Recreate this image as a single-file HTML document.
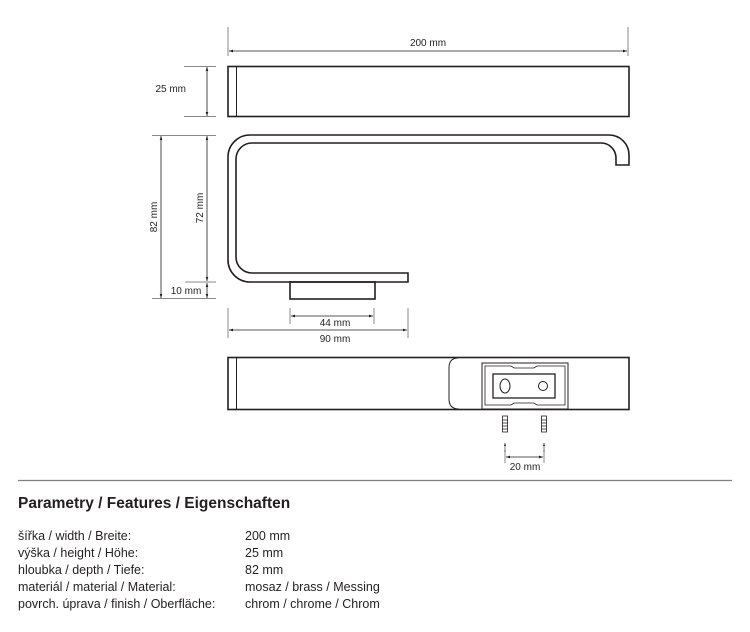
<!DOCTYPE html>
<html><head><meta charset="utf-8"><style>
html,body{margin:0;padding:0;background:#fff;}
svg{display:block;}
text{font-family:"Liberation Sans",sans-serif;fill:#231f20;}
</style></head><body>
<svg width="750" height="632" viewBox="0 0 750 632" xmlns="http://www.w3.org/2000/svg">
<defs><marker id="a" viewBox="0 0 6 6" refX="6" refY="3" markerWidth="5" markerHeight="5" orient="auto-start-reverse"><path d="M0,1 L6,3 L0,5z" fill="#231f20"/></marker></defs>
<g stroke="#231f20" fill="none">
<line x1="228" y1="27" x2="228" y2="56" stroke="#888"/>
<line x1="628" y1="27" x2="628" y2="56" stroke="#888"/>
<line x1="229" y1="51" x2="627" y2="51" stroke-width="0.8" marker-start="url(#a)" marker-end="url(#a)"/>
<rect x="228" y="66.5" width="401" height="50" stroke-width="1.6"/>
<line x1="236.5" y1="67" x2="236.5" y2="116"/>
<line x1="184" y1="66.5" x2="216" y2="66.5" stroke="#888"/>
<line x1="184" y1="116.5" x2="216" y2="116.5" stroke="#888"/>
<line x1="207" y1="67" x2="207" y2="116" stroke-width="0.8" marker-start="url(#a)" marker-end="url(#a)"/>
<path d="M408,273 L408,282 L250,282 A22,22 0 0 1 228,260 L228,157 A22,22 0 0 1 250,135 L609,135 A20,20 0 0 1 629,155 L629,165 L616,165 L616,158 A15,15 0 0 0 601,143 L252,143 A16,16 0 0 0 236,159 L236,257 A16,16 0 0 0 252,273 Z" stroke-width="1.6"/>
<rect x="290" y="282" width="85" height="17" stroke-width="1.6"/>
<line x1="152" y1="135.5" x2="216" y2="135.5" stroke="#888"/>
<line x1="152" y1="298.5" x2="216" y2="298.5" stroke="#888"/>
<line x1="185" y1="282" x2="216" y2="282" stroke="#888"/>
<line x1="161" y1="136" x2="161" y2="298" stroke-width="0.8" marker-start="url(#a)" marker-end="url(#a)"/>
<line x1="207" y1="136" x2="207" y2="281" stroke-width="0.8" marker-start="url(#a)" marker-end="url(#a)"/>
<line x1="207" y1="283" x2="207" y2="298" stroke-width="0.8" marker-start="url(#a)" marker-end="url(#a)"/>
<line x1="290" y1="308" x2="290" y2="324" stroke="#888"/>
<line x1="374" y1="308" x2="374" y2="324" stroke="#888"/>
<line x1="291" y1="316" x2="373" y2="316" stroke-width="0.8" marker-start="url(#a)" marker-end="url(#a)"/>
<line x1="228" y1="308" x2="228" y2="338" stroke="#888"/>
<line x1="408" y1="308" x2="408" y2="338" stroke="#888"/>
<line x1="229" y1="330" x2="407" y2="330" stroke-width="0.8" marker-start="url(#a)" marker-end="url(#a)"/>
<rect x="228" y="357.5" width="401" height="52" stroke-width="1.6"/>
<line x1="236.5" y1="358" x2="236.5" y2="409"/>
<path d="M458,358 Q449,358 449,368 L449,399 Q449,409 459,409"/>
<rect x="482" y="363" width="86" height="46" stroke-width="1"/>
<path d="M485,366 H511 L514,368 H534 L537,366 H565 V405 H537 L534,403 H514 L511,405 H485 Z" stroke-width="0.8"/>
<rect x="493" y="374" width="62" height="24" stroke-width="1.3"/>
<ellipse cx="505" cy="386" rx="5" ry="7"/>
<circle cx="543" cy="386" r="4.5"/>
<g stroke-width="0.8">
<rect x="502.5" y="416" width="5" height="16"/>
<rect x="541.5" y="416" width="5" height="16"/>
<path d="M502,420 H508 M502,423 H508 M502,426 H508 M502,429 H508 M541,420 H547 M541,423 H547 M541,426 H547 M541,429 H547"/>
</g>
<line x1="505" y1="450" x2="505" y2="463" stroke="#888"/>
<line x1="544" y1="450" x2="544" y2="463" stroke="#888"/>
<line x1="505" y1="443" x2="505" y2="452" stroke-width="0.6" marker-start="url(#a)"/>
<line x1="544" y1="443" x2="544" y2="452" stroke-width="0.6" marker-start="url(#a)"/>
<line x1="506" y1="457" x2="543" y2="457" stroke-width="0.8" marker-start="url(#a)" marker-end="url(#a)"/>
<line x1="18" y1="480.5" x2="732" y2="480.5" stroke="#808080" stroke-width="1.2"/>
</g>
<g font-size="10">
<text x="428" y="46" text-anchor="middle">200 mm</text>
<text x="186" y="92" text-anchor="end">25 mm</text>
<text x="157" y="217" text-anchor="middle" transform="rotate(-90 157 217)">82 mm</text>
<text x="203" y="208" text-anchor="middle" transform="rotate(-90 203 208)">72 mm</text>
<text x="186" y="294" text-anchor="middle">10 mm</text>
<text x="335" y="326" text-anchor="middle">44 mm</text>
<text x="335" y="342" text-anchor="middle">90 mm</text>
<text x="525" y="470" text-anchor="middle">20 mm</text>
</g>
<text x="18" y="508" font-size="15.5" font-weight="bold">Parametry / Features / Eigenschaften</text>
<g font-size="12.5">
<text x="18" y="540">šířka / width / Breite:</text><text x="245" y="540">200 mm</text>
<text x="18" y="557">výška / height / Höhe:</text><text x="245" y="557">25 mm</text>
<text x="18" y="574">hloubka / depth / Tiefe:</text><text x="245" y="574">82 mm</text>
<text x="18" y="591">materiál / material / Material:</text><text x="245" y="591">mosaz / brass / Messing</text>
<text x="18" y="608">povrch. úprava / finish / Oberfläche:</text><text x="245" y="608">chrom / chrome / Chrom</text>
</g>
</svg>
</body></html>
